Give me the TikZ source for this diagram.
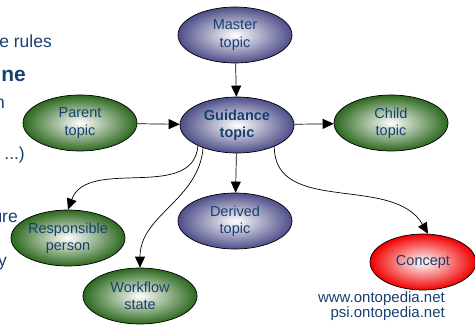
\documentclass[tikz,border=0pt]{standalone}
\usepackage{fontspec}
\setmainfont{Liberation Sans}
\usetikzlibrary{shapes.geometric,arrows.meta}
\definecolor{txtblue}{RGB}{24,64,112}
\definecolor{topicblue}{RGB}{78,78,138}
\definecolor{topicgreen}{RGB}{44,104,30}
\definecolor{topicred}{RGB}{240,0,0}
\begin{document}
\begin{tikzpicture}[x=1pt,y=-1pt,
  topic/.style={ellipse,draw,line width=0.7pt,minimum width=114pt,minimum height=56pt,inner sep=0pt,
    align=center,text=txtblue,font=\fontsize{14.5}{17.5}\selectfont,inner color=white},
  bluetopic/.style={topic,outer color=topicblue},
  greentopic/.style={topic,outer color=topicgreen},
  redtopic/.style={topic,outer color=topicred,minimum width=106pt},
  frag/.style={anchor=base east,inner sep=0pt,text=txtblue,font=\fontsize{17.5}{17.5}\selectfont},
  link/.style={-{Triangle[length=11pt,width=10pt]},line width=0.7pt}]
  \clip (0,0) rectangle (475,325);
  \foreach \txt/\xx/\yy [count=\i] in {e rules/52/47,{\fontsize{21}{21}\selectfont\bfseries ne}/26/81,n/5/108,{ ...)}/25/159,ure/18/222,y/7/266}
    \node[frag] (frag\i) at (\xx,\yy) {\txt};
  \node[bluetopic] (master) at (235,35) {Master\\topic};
  \node[bluetopic,font=\fontsize{14.5}{17.5}\selectfont\bfseries] (guid) at (237,125) {Guidance\\topic};
  \node[greentopic] (parent) at (80,123) {Parent\\topic};
  \node[greentopic] (child) at (391,123) {Child\\topic};
  \node[bluetopic] (derived) at (235,221) {Derived\\topic};
  \node[greentopic] (resp) at (68,238) {Responsible\\person};
  \node[greentopic] (work) at (140,296) {Workflow\\state};
  \node[redtopic] (concept) at (423,262) {Concept};
  \node[anchor=north east,inner sep=0pt,align=right,text=txtblue,font=\fontsize{15}{15}\selectfont] (site) at (445,291) {www.ontopedia.net\\psi.ontopedia.net};
  \draw[link] (master) -- (guid);
  \draw[link] (parent) -- (guid);
  \draw[link] (guid) -- (child);
  \draw[link] (guid) -- (derived);
  \draw[link] (guid.208) to[out=-95,in=70] (resp.north);
  \draw[link] (guid.214) to[out=-95,in=90] (work.north);
  \draw[link] (guid.330) to[out=-90,in=120] (concept.80);
\end{tikzpicture}
\end{document}
